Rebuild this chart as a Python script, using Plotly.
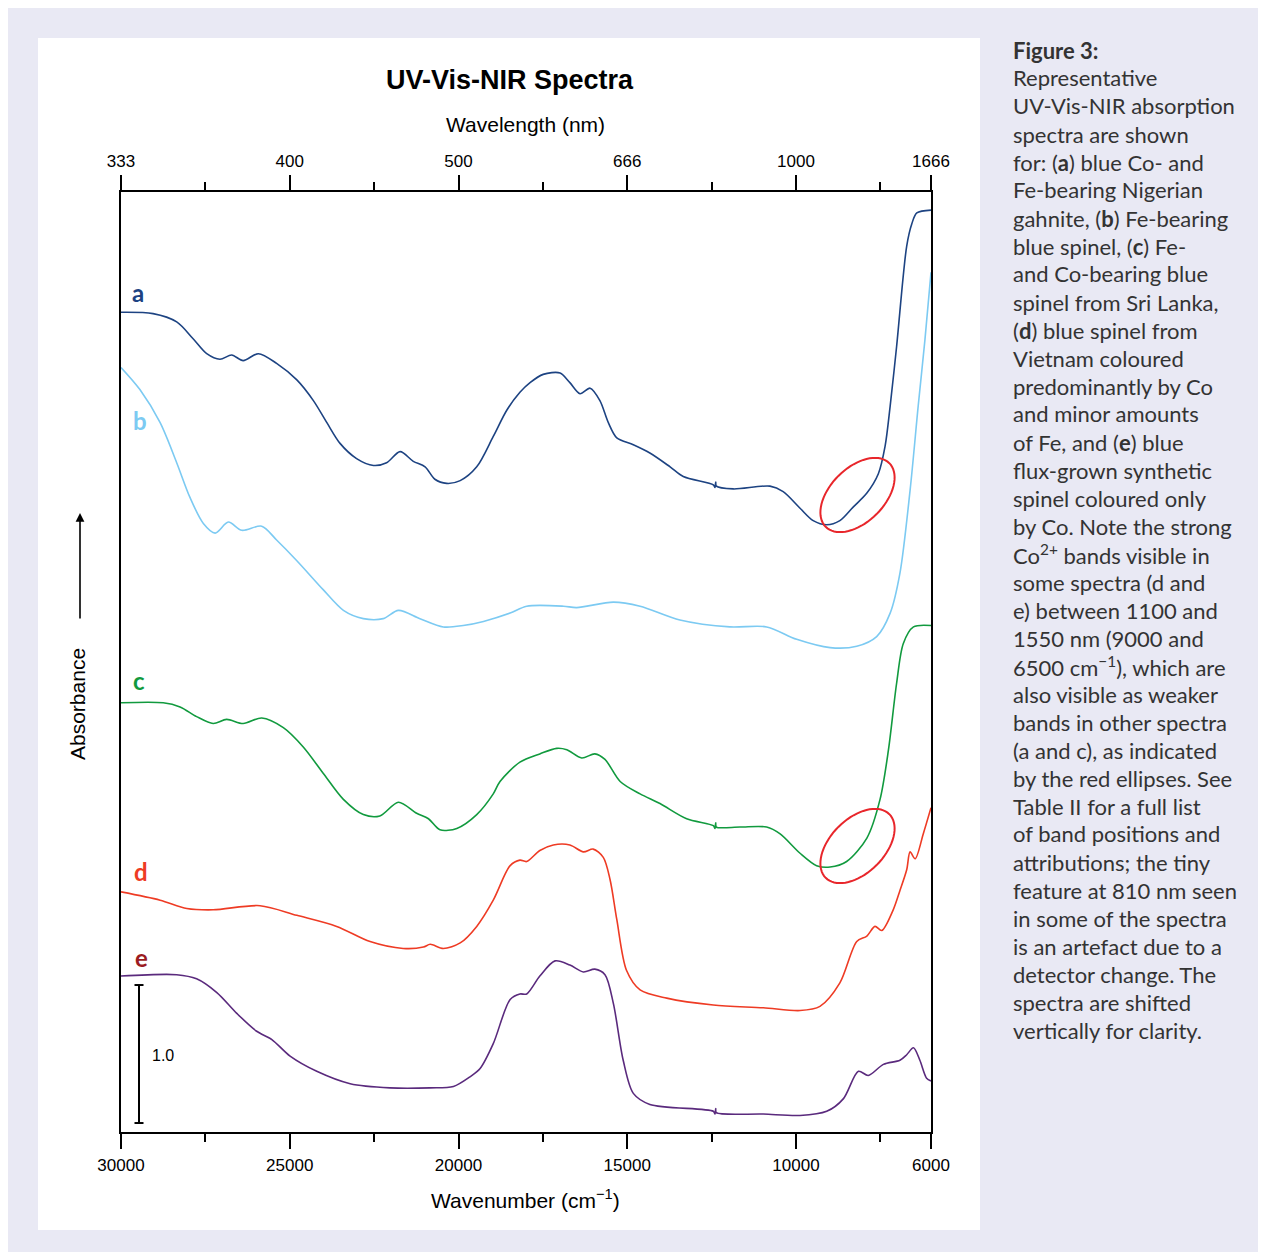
import numpy as np
import plotly.graph_objects as go

# ---------------- data (wavenumber cm-1, absorbance shifted) ----------------
wn_a = [30000, 29050, 28350, 27870, 27460, 27070, 26720, 26380, 25930, 25390, 24790, 24300, 23900,
        23510, 23020, 22520, 22130, 21730, 21340, 20990, 20700, 20350, 19950, 19460, 18970, 18570,
        18180, 17880, 17490, 16990, 16700, 16400, 16100, 15810, 15560, 15310, 14820, 14330, 13730,
        13340, 12450, 12400, 12380, 12360, 11860, 10770, 10380, 9880, 9490, 9090, 8700, 8300, 7900,
        7560, 7360, 7210, 7020, 6720, 6570, 6420, 6000]
ab_a = [5.94, 5.93, 5.87, 5.75, 5.64, 5.60, 5.63, 5.59, 5.64, 5.57, 5.45, 5.30, 5.14,
        4.99, 4.88, 4.83, 4.85, 4.93, 4.86, 4.82, 4.73, 4.70, 4.72, 4.82, 5.04, 5.23,
        5.36, 5.43, 5.49, 5.50, 5.43, 5.35, 5.39, 5.30, 5.14, 5.03, 4.98, 4.92, 4.82,
        4.75, 4.69, 4.67, 4.71, 4.68, 4.66, 4.68, 4.64, 4.52, 4.43, 4.40, 4.43, 4.53, 4.63,
        4.77, 4.97, 5.26, 5.69, 6.42, 6.58, 6.66, 6.68]

wn_b = [30000, 29440, 28840, 28350, 27960, 27560, 27210, 26820, 26420, 25830, 25390, 24790, 24010,
        23410, 22820, 22230, 21780, 21140, 20450, 19860, 19260, 18470, 17980, 16890, 16500, 15410,
        14620, 13440, 11960, 10870, 9980, 8990, 8200, 7610, 7210, 6920, 6620, 6380, 6180, 6000]
ab_b = [5.54, 5.38, 5.14, 4.85, 4.60, 4.41, 4.34, 4.42, 4.36, 4.39, 4.29, 4.14, 3.93,
        3.78, 3.72, 3.72, 3.78, 3.72, 3.66, 3.67, 3.70, 3.76, 3.81, 3.81, 3.80, 3.84,
        3.81, 3.71, 3.66, 3.66, 3.57, 3.51, 3.52, 3.59, 3.76, 4.05, 4.65, 5.26, 5.74, 6.23]

wn_c = [30000, 28750, 28250, 27760, 27270, 26870, 26380, 25830, 25190, 24600, 24010, 23410, 22820,
        22330, 21780, 21240, 20890, 20550, 20050, 19460, 18970, 18770, 18180, 17590, 17090, 16790,
        16350, 15960, 15660, 15210, 14620, 14030, 13240, 12450, 12400, 12380, 12360, 11660, 10870,
        10470, 9880, 9390, 8990, 8500, 7900, 7510, 7260, 7020, 6820, 6520, 6000]
ab_c = [3.11, 3.11, 3.08, 3.01, 2.96, 2.99, 2.96, 3.00, 2.93, 2.79, 2.60, 2.41, 2.30,
        2.29, 2.39, 2.31, 2.27, 2.19, 2.20, 2.30, 2.45, 2.54, 2.68, 2.74, 2.78, 2.77,
        2.71, 2.74, 2.70, 2.54, 2.45, 2.38, 2.27, 2.22, 2.20, 2.24, 2.21, 2.21, 2.21,
        2.16, 2.02, 1.93, 1.92, 1.96, 2.13, 2.41, 2.77, 3.25, 3.54, 3.66, 3.67]

wn_d = [30000, 28840, 28050, 27270, 25880, 24790, 23610, 22620, 21640, 21040, 20840, 20450, 19950,
        19460, 18970, 18470, 18180, 17980, 17590, 17190, 16700, 16300, 16010, 15710, 15510, 15310,
        15020, 14620, 13830, 12450, 10970, 9880, 9290, 8700, 8200, 7900, 7660, 7460, 7120, 6920,
        6720, 6620, 6470, 6230, 6000]
ab_d = [1.74, 1.68, 1.62, 1.61, 1.64, 1.57, 1.49, 1.38, 1.33, 1.34, 1.36, 1.33, 1.37,
        1.49, 1.68, 1.93, 1.97, 1.96, 2.04, 2.08, 2.08, 2.03, 2.05, 1.99, 1.83, 1.54,
        1.17, 1.03, 0.97, 0.92, 0.90, 0.88, 0.91, 1.08, 1.38, 1.42, 1.49, 1.46, 1.61, 1.75,
        1.90, 2.03, 1.98, 2.16, 2.35]

wn_e = [30000, 28350, 27760, 27160, 26570, 25980, 25530, 24990, 24200, 23210, 22030, 20840, 20150,
        19660, 19360, 18970, 18470, 18180, 17980, 17590, 17140, 16700, 16300, 15960, 15660, 15410,
        15120, 14820, 14330, 12450, 12400, 12380, 12360, 10970, 9880, 9090, 8600, 8150, 7860, 7410,
        6920, 6720, 6520, 6330, 6130, 6000]
ab_e = [1.13, 1.14, 1.11, 1.01, 0.86, 0.73, 0.67, 0.55, 0.44, 0.35, 0.32, 0.32, 0.33,
        0.40, 0.46, 0.64, 0.96, 1.00, 1.00, 1.13, 1.24, 1.21, 1.16, 1.18, 1.14, 0.93,
        0.52, 0.28, 0.20, 0.15, 0.13, 0.17, 0.14, 0.13, 0.12, 0.15, 0.24, 0.44, 0.41, 0.49,
        0.52, 0.56, 0.61, 0.52, 0.39, 0.37]

series = [
    ("a", wn_a, ab_a, "#1d4382"),
    ("b", wn_b, ab_b, "#7ccaf2"),
    ("c", wn_c, ab_c, "#119a3e"),
    ("d", wn_d, ab_d, "#ee3b24"),
    ("e", wn_e, ab_e, "#5a2a7d"),
]
label_colors = {"a": "#1d4382", "b": "#7ccaf2", "c": "#119a3e", "d": "#ee3b24", "e": "#9b1c22"}

bottom_ticks = [30000, 25000, 20000, 15000, 10000, 6000]
top_tick_labels = ["333", "400", "500", "666", "1000", "1666"]
minor_ticks = [27500, 22500, 17500, 12500, 7500]

# ---------------- geometry ----------------
W, H = 1258, 1244
PL, PT, PR, PB = 113, 184, 923, 1124   # plot area in figure pixels
YMAX = (PB - PT) / 138.0  # 1.0 absorbance = 138 px

def px(xpix):  # page pixel -> paper x
    return (xpix - 8 - PL) / (PR - PL)

def py(ypix):  # page pixel -> paper y
    return (PB - (ypix - 8)) / (PB - PT)

fig = go.Figure()
for name, wn, ab, col in series:
    fig.add_trace(go.Scatter(x=wn, y=ab, mode="lines", name=name,
                             line=dict(color=col, width=1.6, shape="spline", smoothing=0.85),
                             hoverinfo="skip", showlegend=False))
# invisible trace for top axis
fig.add_trace(go.Scatter(x=[30000, 6000], y=[0, 0], xaxis="x2", mode="lines",
                         line=dict(width=0), opacity=0, hoverinfo="skip", showlegend=False))

font = "Liberation Sans, Arial, sans-serif"
fig.update_layout(
    width=W, height=H,
    margin=dict(l=PL, r=W - PR, t=PT, b=H - PB, pad=0),
    paper_bgcolor="#e9e9f4", plot_bgcolor="white",
    font=dict(family=font, color="black"),
    xaxis=dict(range=[30000, 6000], showgrid=False, zeroline=False,
               showline=True, linecolor="black", linewidth=2,
               ticks="outside", ticklen=15, tickwidth=2, tickcolor="black",
               tickmode="array", tickvals=bottom_ticks,
               ticktext=[str(t) for t in bottom_ticks],
               tickfont=dict(size=17, family=font), ticklabelstandoff=2,
               minor=dict(tickmode="array", tickvals=minor_ticks, ticks="outside",
                          ticklen=8, tickwidth=2, tickcolor="black")),
    xaxis2=dict(range=[30000, 6000], overlaying="x", side="top", showgrid=False,
                zeroline=False, showline=True, linecolor="black", linewidth=2,
                ticks="outside", ticklen=15, tickwidth=2, tickcolor="black",
                tickmode="array", tickvals=bottom_ticks, ticktext=top_tick_labels,
                tickfont=dict(size=17, family=font), ticklabelstandoff=1,
                minor=dict(tickmode="array", tickvals=minor_ticks, ticks="outside",
                           ticklen=8, tickwidth=2, tickcolor="black")),
    yaxis=dict(range=[0, YMAX], showgrid=False, zeroline=False, showticklabels=False,
               ticks="", showline=True, linecolor="black", linewidth=2, mirror=True),
)

shapes = []
# white panel
shapes.append(dict(type="rect", xref="paper", yref="paper", x0=px(38), x1=px(980),
                   y0=py(1230), y1=py(38), fillcolor="white", line=dict(width=0), layer="below"))
# scale bar (1.0 absorbance)
bx = px(139)
shapes.append(dict(type="line", xref="paper", yref="y", x0=bx, x1=bx, y0=0.065, y1=1.065,
                   line=dict(color="black", width=2)))
for yy in (0.065, 1.065):
    shapes.append(dict(type="line", xref="paper", yref="y", x0=px(134.5), x1=px(143.5),
                       y0=yy, y1=yy, line=dict(color="black", width=2)))

# red ellipses (annotation marks)
def ellipse_path(cx, cy, a, b, ang_deg):
    t = np.linspace(0, 2 * np.pi, 73)
    ang = np.deg2rad(ang_deg)
    xs = cx + a * np.cos(t) * np.cos(ang) - b * np.sin(t) * np.sin(ang)
    ys = cy - (a * np.cos(t) * np.sin(ang) + b * np.sin(t) * np.cos(ang))
    pts = [(px(x), py(y)) for x, y in zip(xs, ys)]
    return "M " + " L ".join(f"{x:.5f},{y:.5f}" for x, y in pts) + " Z"

for cy in (495, 846):
    shapes.append(dict(type="path", xref="paper", yref="paper",
                       path=ellipse_path(857.5, cy, 45, 27, 45),
                       line=dict(color="#e8262b", width=2)))
fig.update_layout(shapes=shapes)

ann = []
ann.append(dict(text="<b>UV-Vis-NIR Spectra</b>", x=px(510), y=py(80), xref="paper", yref="paper",
                showarrow=False, font=dict(size=27, family=font), xanchor="center", yanchor="middle"))
ann.append(dict(text="Wavelength (nm)", x=px(525), y=py(124), xref="paper", yref="paper",
                showarrow=False, font=dict(size=21, family=font), xanchor="center", yanchor="middle"))
ann.append(dict(text="Wavenumber (cm<sup>−1</sup>)", x=px(525), y=py(1199), xref="paper", yref="paper",
                showarrow=False, font=dict(size=21, family=font), xanchor="center", yanchor="middle"))
ann.append(dict(text="Absorbance", x=px(77), y=py(704), xref="paper", yref="paper", textangle=-90,
                showarrow=False, font=dict(size=21, family=font), xanchor="center", yanchor="middle"))
ann.append(dict(text="", x=px(80), y=py(513), xref="paper", yref="paper", showarrow=True,
                ax=0, ay=107, arrowhead=2, arrowsize=1.1, arrowwidth=1.6, arrowcolor="black"))
ann.append(dict(text="1.0", x=px(150), y=0.558, xref="paper", yref="y", showarrow=False,
                font=dict(size=16, family=font), xanchor="left", yanchor="middle"))
for name, xx, yy in [("a", 138, 292), ("b", 140, 420), ("c", 139, 680), ("d", 141, 871), ("e", 141, 957)]:
    ann.append(dict(text=f"<b>{name}</b>", x=px(xx), y=py(yy), xref="paper", yref="paper",
                    showarrow=False, font=dict(size=24, family="Lato, sans-serif", color=label_colors[name]),
                    xanchor="center", yanchor="middle"))

caption_lines = [
    "<b>Figure 3:</b>",
    "Representative",
    "UV-Vis-NIR absorption",
    "spectra are shown",
    "for: (<b>a</b>) blue Co- and",
    "Fe-bearing Nigerian",
    "gahnite, (<b>b</b>) Fe-bearing",
    "blue spinel, (<b>c</b>) Fe-",
    "and Co-bearing blue",
    "spinel from Sri Lanka,",
    "(<b>d</b>) blue spinel from",
    "Vietnam coloured",
    "predominantly by Co",
    "and minor amounts",
    "of Fe, and (<b>e</b>) blue",
    "flux-grown synthetic",
    "spinel coloured only",
    "by Co. Note the strong",
    "Co<sup>2+</sup> bands visible in",
    "some spectra (d and",
    "e) between 1100 and",
    "1550 nm (9000 and",
    "6500 cm<sup>−1</sup>), which are",
    "also visible as weaker",
    "bands in other spectra",
    "(a and c), as indicated",
    "by the red ellipses. See",
    "Table II for a full list",
    "of band positions and",
    "attributions; the tiny",
    "feature at 810 nm seen",
    "in some of the spectra",
    "is an artefact due to a",
    "detector change. The",
    "spectra are shifted",
    "vertically for clarity.",
]
for i, line in enumerate(caption_lines):
    ann.append(dict(text=line, x=px(1011), y=py(50 + 28 * i), xref="paper", yref="paper",
                    showarrow=False, xanchor="left", yanchor="middle", align="left",
                    font=dict(size=22, family="Lato, sans-serif", color="#333333")))
fig.update_layout(annotations=ann)

fig.write_html("out.html")
